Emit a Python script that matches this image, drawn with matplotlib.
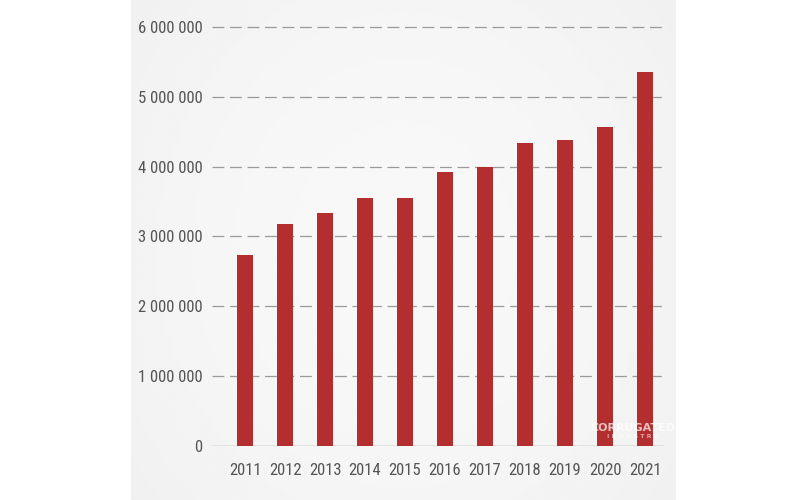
import numpy as np
import matplotlib.pyplot as plt
from matplotlib import font_manager

years = ["2011", "2012", "2013", "2014", "2015", "2016", "2017", "2018", "2019", "2020", "2021"]
values = [2730000, 3180000, 3330000, 3550000, 3550000, 3930000, 3990000, 4340000, 4380000, 4570000, 5360000]
yticks = [0, 1000000, 2000000, 3000000, 4000000, 5000000, 6000000]
ytick_labels = ["0", "1 000 000", "2 000 000", "3 000 000", "4 000 000", "5 000 000", "6 000 000"]

# pick a narrow face if there is one
installed = {f.name for f in font_manager.fontManager.ttflist}
font_name, font_size = "DejaVu Sans", 10
for name, size in [("Liberation Sans Narrow", 13), ("Roboto Condensed", 12),
                   ("Open Sans Condensed", 12), ("DejaVu Sans Condensed", 11)]:
    if name in installed:
        font_name, font_size = name, size
        break
plt.rcParams['font.family'] = [font_name, 'DejaVu Sans']

fig = plt.figure(figsize=(8.05, 5), dpi=100)
fig.patch.set_facecolor("white")

# gray panel with a soft gradient (lighter in the middle)
bg = fig.add_axes([131 / 805, 0, (675 - 131) / 805, 1])
gx = np.linspace(-1, 1, 200)
gy = np.linspace(-1, 1, 200)
X, Y = np.meshgrid(gx, gy)
shade = 0.972 - 0.03 * (X ** 2 * 0.6 + Y ** 2 * 0.4)
bg.imshow(shade, cmap="gray", vmin=0, vmax=1, aspect="auto", extent=[0, 1, 0, 1])
bg.axis("off")

ax = fig.add_axes([212 / 805, 54 / 500, 452 / 805, 419 / 500])
ax.set_facecolor("none")
x = np.arange(len(years))
ax.bar(x, values, width=0.41, color="#b32f2f", zorder=3)

ax.set_xlim(-0.825, 10.475)
ax.set_ylim(0, 6000000)
ax.set_xticks(x)
ax.set_xticklabels(years)
ax.set_yticks(yticks)
ax.set_yticklabels(ytick_labels)

for v in yticks[1:]:
    ax.axhline(v, color="#9a9a9a", linewidth=0.9, linestyle=(0, (9.5, 4.5)), zorder=1, clip_on=False)
ax.axhline(0, color="#9a9a9a", linewidth=1.0, zorder=2)

for s in ax.spines.values():
    s.set_visible(False)
ax.tick_params(length=0, labelsize=font_size, colors="#555555")
ax.tick_params(axis="y", pad=7)
ax.tick_params(axis="x", pad=12)

# faint watermark
fig.text(633 / 805, 1 - 428 / 500, "CORRUGATED", color="white", alpha=0.7,
         fontsize=8, fontweight="bold", ha="center", va="center", family="DejaVu Sans")
fig.text(633 / 805, 1 - 437 / 500, "I N D U S T R Y", color="white", alpha=0.55,
         fontsize=4.5, fontweight="bold", ha="center", va="center", family="DejaVu Sans")

fig.savefig("out.png", dpi=100)
